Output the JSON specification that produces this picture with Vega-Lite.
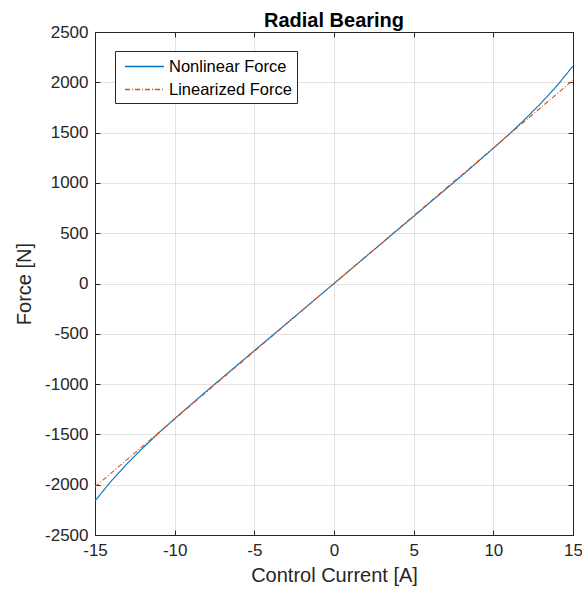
{
  "$schema": "https://vega.github.io/schema/vega-lite/v6.json",
  "width": 478,
  "height": 503,
  "autosize": "none",
  "padding": {"left": 95, "top": 32, "right": 9, "bottom": 59},
  "background": "white",
  "config": {
    "font": "Liberation Sans",
    "view": {"stroke": "#262626", "strokeWidth": 1},
    "axis": {
      "labelFont": "Liberation Sans",
      "titleFont": "Liberation Sans",
      "labelFontSize": 17,
      "titleFontSize": 20,
      "titleFontWeight": "normal",
      "labelColor": "#262626",
      "titleColor": "#262626",
      "domainColor": "#262626",
      "tickColor": "#262626",
      "gridColor": "#262626",
      "gridOpacity": 0.13,
      "labelExpr": "'' + datum.value"
    }
  },
  "title": {"text": "Radial Bearing", "fontSize": 20, "fontWeight": "bold", "font": "Liberation Sans", "color": "#000000", "offset": -8},
  "data": {
    "values": [
      {"i": -15, "F": -2162, "s": "Nonlinear Force"},
      {"i": -14, "F": -1967, "s": "Nonlinear Force"},
      {"i": -13, "F": -1794, "s": "Nonlinear Force"},
      {"i": -12, "F": -1635, "s": "Nonlinear Force"},
      {"i": -11, "F": -1486, "s": "Nonlinear Force"},
      {"i": -10, "F": -1344, "s": "Nonlinear Force"},
      {"i": -9, "F": -1206, "s": "Nonlinear Force"},
      {"i": -8, "F": -1069, "s": "Nonlinear Force"},
      {"i": -7, "F": -935, "s": "Nonlinear Force"},
      {"i": -6, "F": -801, "s": "Nonlinear Force"},
      {"i": -5, "F": -667, "s": "Nonlinear Force"},
      {"i": -4, "F": -534, "s": "Nonlinear Force"},
      {"i": -3, "F": -400, "s": "Nonlinear Force"},
      {"i": -2, "F": -267, "s": "Nonlinear Force"},
      {"i": -1, "F": -133, "s": "Nonlinear Force"},
      {"i": 0, "F": 0, "s": "Nonlinear Force"},
      {"i": 1, "F": 133, "s": "Nonlinear Force"},
      {"i": 2, "F": 267, "s": "Nonlinear Force"},
      {"i": 3, "F": 400, "s": "Nonlinear Force"},
      {"i": 4, "F": 534, "s": "Nonlinear Force"},
      {"i": 5, "F": 667, "s": "Nonlinear Force"},
      {"i": 6, "F": 801, "s": "Nonlinear Force"},
      {"i": 7, "F": 935, "s": "Nonlinear Force"},
      {"i": 8, "F": 1069, "s": "Nonlinear Force"},
      {"i": 9, "F": 1206, "s": "Nonlinear Force"},
      {"i": 10, "F": 1344, "s": "Nonlinear Force"},
      {"i": 11, "F": 1486, "s": "Nonlinear Force"},
      {"i": 12, "F": 1635, "s": "Nonlinear Force"},
      {"i": 13, "F": 1794, "s": "Nonlinear Force"},
      {"i": 14, "F": 1967, "s": "Nonlinear Force"},
      {"i": 15, "F": 2162, "s": "Nonlinear Force"},
      {"i": -15, "F": -2021, "s": "Linearized Force"},
      {"i": -10, "F": -1347, "s": "Linearized Force"},
      {"i": -5, "F": -674, "s": "Linearized Force"},
      {"i": 0, "F": 0, "s": "Linearized Force"},
      {"i": 5, "F": 674, "s": "Linearized Force"},
      {"i": 10, "F": 1347, "s": "Linearized Force"},
      {"i": 15, "F": 2021, "s": "Linearized Force"}
    ]
  },
  "layer": [
    {
      "mark": {"type": "line", "strokeWidth": 1.1, "clip": true},
      "encoding": {
        "x": {
          "field": "i", "type": "quantitative",
          "scale": {"domain": [-15, 15], "nice": false, "zero": false},
          "axis": {"title": "Control Current [A]", "values": [-15, -10, -5, 0, 5, 10, 15], "tickSize": -5, "labelPadding": 12, "titlePadding": 7, "labelFlush": false}
        },
        "y": {
          "field": "F", "type": "quantitative",
          "scale": {"domain": [-2500, 2500], "nice": false},
          "axis": {"title": "Force [N]", "values": [-2500, -2000, -1500, -1000, -500, 0, 500, 1000, 1500, 2000, 2500], "tickSize": -5, "labelPadding": 12, "titlePadding": 10}
        },
        "color": {
          "field": "s", "type": "nominal",
          "scale": {"domain": ["Nonlinear Force", "Linearized Force"], "range": ["#0072BD", "#D95319"]},
          "legend": {
            "title": null, "orient": "none", "legendX": 20, "legendY": 19,
            "symbolType": "M-2,0H2", "symbolSize": 380, "symbolStrokeWidth": 1.3,
            "labelFontSize": 16.5, "labelFont": "Liberation Sans", "labelColor": "#000000",
            "strokeColor": "#262626", "fillColor": "white", "padding": 5,
            "rowPadding": 4, "labelOffset": 14, "symbolOffset": 14
          }
        },
        "strokeDash": {
          "field": "s", "type": "nominal",
          "scale": {"domain": ["Nonlinear Force", "Linearized Force"], "range": [[1, 0], [5, 2, 1, 2]]},
          "legend": {
            "title": null, "orient": "none", "legendX": 20, "legendY": 19,
            "symbolType": "M-2,0H2", "symbolSize": 380, "symbolStrokeWidth": 1.3,
            "labelFontSize": 16.5, "labelFont": "Liberation Sans", "labelColor": "#000000",
            "strokeColor": "#262626", "fillColor": "white", "padding": 5,
            "rowPadding": 4, "labelOffset": 14, "symbolOffset": 14
          }
        }
      }
    },
    {
      "mark": {"type": "point", "opacity": 0},
      "encoding": {
        "x": {"field": "i", "type": "quantitative", "axis": {"orient": "top", "title": null, "labels": false, "domain": false, "grid": false, "values": [-15, -10, -5, 0, 5, 10, 15], "tickSize": -5}},
        "y": {"field": "F", "type": "quantitative", "axis": {"orient": "right", "title": null, "labels": false, "domain": false, "grid": false, "values": [-2500, -2000, -1500, -1000, -500, 0, 500, 1000, 1500, 2000, 2500], "tickSize": -5}}
      }
    }
  ],
  "resolve": {"axis": {"x": "independent", "y": "independent"}}
}
